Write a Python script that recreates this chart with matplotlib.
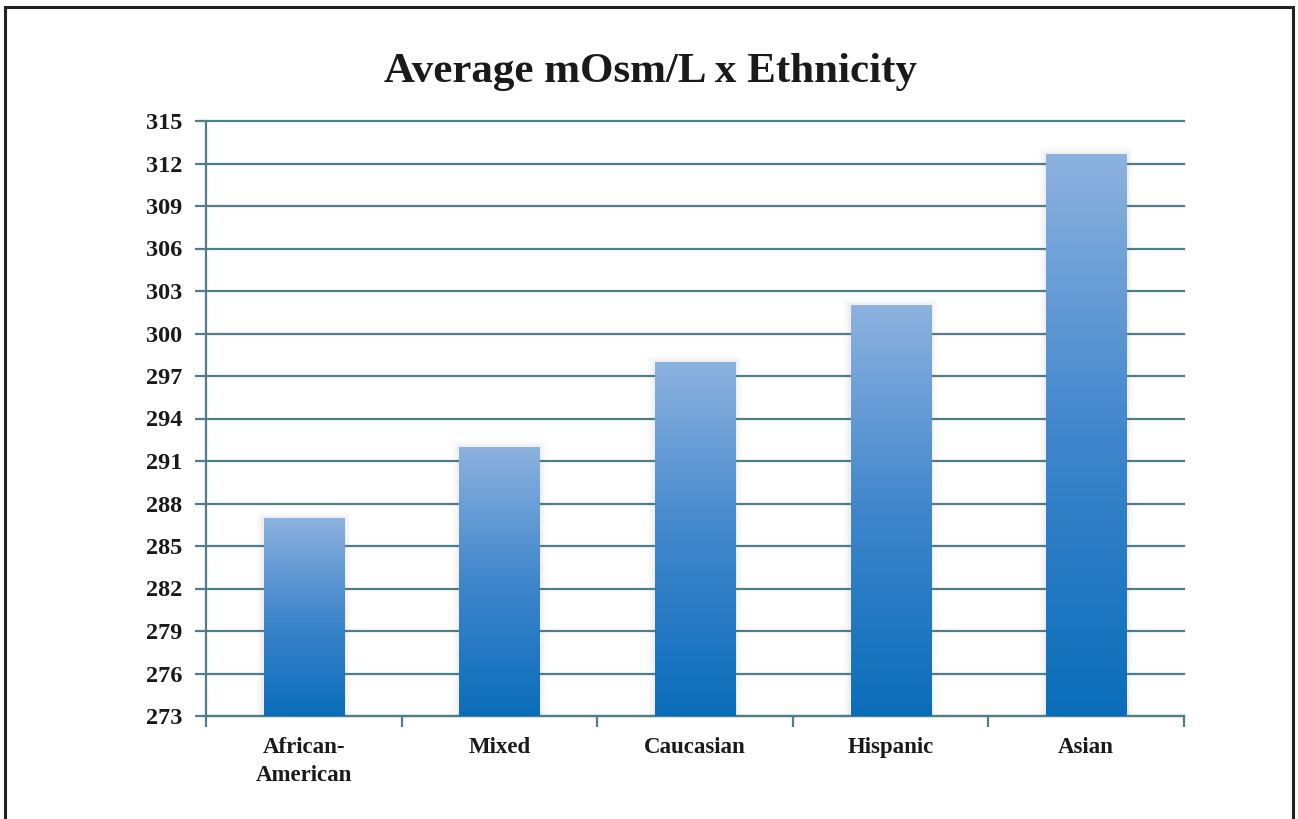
import numpy as np
import matplotlib
matplotlib.use("Agg")
import matplotlib.pyplot as plt
from matplotlib.patches import Rectangle
from matplotlib.colors import LinearSegmentedColormap

categories = ["African-\nAmerican", "Mixed", "Caucasian", "Hispanic", "Asian"]
values = [287, 292, 298, 302, 312.7]
yticks = list(range(273, 316, 3))
title = "Average mOsm/L x Ethnicity"

plt.rcParams['font.family'] = ['Liberation Serif', 'DejaVu Serif']

fig = plt.figure(figsize=(12.98, 8.19), dpi=100)
ax = fig.add_axes([206/1298, 1-716/819, (1184-206)/1298, (716-121)/819])

grid_color = '#4f7d8a'
x = np.arange(len(categories))
bars = ax.bar(x, [v - 273 for v in values], bottom=273, width=0.41,
              color='none', edgecolor='none', zorder=3)

cmap = LinearSegmentedColormap.from_list('g', ['#0a6dba', '#3f86cc', '#8db2df'])
grad = np.linspace(0, 1, 256).reshape(-1, 1)
for b in bars:
    x0, y0 = b.get_x(), b.get_y()
    w, h = b.get_width(), b.get_height()
    for i, a in enumerate([0.06, 0.04, 0.025]):
        d = 0.012 * (i + 1)
        sh = Rectangle((x0 - d, y0), w + 2 * d, h + d * 12, facecolor='#7a7a7a',
                       alpha=a, edgecolor='none', zorder=2)
        ax.add_patch(sh)
    im = ax.imshow(grad, extent=(x0, x0 + w, y0, y0 + h), origin='lower',
                   cmap=cmap, aspect='auto', zorder=3)
    im.set_clip_path(b)

ax.set_xlim(-0.5, len(categories) - 0.5)
ax.set_ylim(273, 315)
ax.set_yticks(yticks)
ax.set_yticklabels([str(t) for t in yticks])
ax.yaxis.grid(True, color=grid_color, linewidth=1.6, zorder=1)
for gl in ax.get_ygridlines():
    gl.set_clip_on(False)
ax.set_axisbelow(True)

ax.set_xticks(x)
ax.set_xticklabels(categories, linespacing=1.45)
ax.set_xticks(np.arange(-0.5, len(categories), 1.0), minor=True)
ax.tick_params(axis='x', which='major', length=0, pad=15)
ax.tick_params(axis='x', which='minor', length=8, width=1.6, color=grid_color, direction='out')
ax.tick_params(axis='y', length=8, width=1.6, color=grid_color, pad=9)

for lab in ax.get_xticklabels():
    lab.set_fontsize(16.5)
    lab.set_fontweight('bold')
    lab.set_color('#1a1a1a')
for lab in ax.get_yticklabels():
    lab.set_fontsize(17.5)
    lab.set_fontweight('bold')
    lab.set_color('#1a1a1a')

for s in ['top', 'right']:
    ax.spines[s].set_visible(False)
ax.spines['left'].set_color(grid_color)
ax.spines['left'].set_linewidth(1.6)
ax.spines['bottom'].set_color(grid_color)
ax.spines['bottom'].set_linewidth(1.6)

fig.text(650/1298, 1 - 72/819, title, ha='center', va='center',
         fontsize=31, fontweight='bold', color='#1a1a1a')

border = Rectangle((5/1298, -0.05), 1288/1298, 1 - 7/819 + 0.05,
                   transform=fig.transFigure, fill=False, edgecolor='#222222',
                   linewidth=2.2)
fig.patches.append(border)

fig.savefig('out.png', dpi=100)
